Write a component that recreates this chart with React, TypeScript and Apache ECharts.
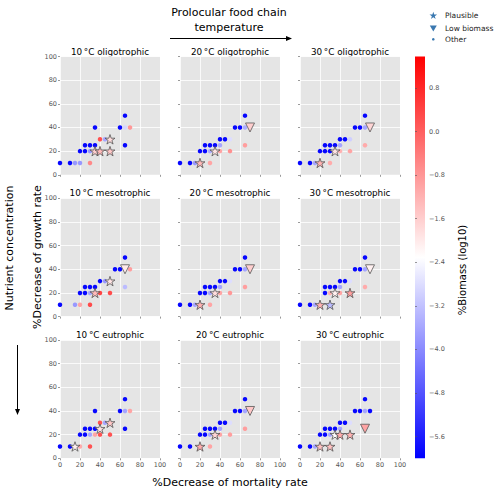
import React, { useEffect, useRef } from "react";
import * as echarts from "echarts";

// log10 biomass of a saturated-blue point
const B = -5.9;

const panelTitles = [
  "10\u2009°C oligotrophic", "20\u2009°C oligotrophic", "30\u2009°C oligotrophic",
  "10\u2009°C mesotrophic", "20\u2009°C mesotrophic", "30\u2009°C mesotrophic",
  "10\u2009°C eutrophic", "20\u2009°C eutrophic", "30\u2009°C eutrophic",
];

const axisTicks = [0, 20, 40, 60, 80, 100];
const colorbarTicks = [-5.6, -4.8, -4.0, -3.2, -2.4, -1.6, -0.8, 0.0, 0.8];
const biomassMin = -6.0;
const biomassMax = 1.38;

// [mortality decrease %, growth decrease %, log10 biomass, kind] kind: 0 other, 1 plausible, 2 low biomass
const oligo10 = [
  [0, 10, B, 0], [10, 10, B, 0], [15, 10, -3.8, 0], [20, 10, -3.8, 0], [30, 10, -0.6, 0],
  [20, 20, B, 0], [25, 20, B, 0], [30, 20, -3.8, 0],
  [25, 25, B, 0], [30, 25, B, 0], [35, 25, B, 0], [35, 40, B, 0],
  [40, 30, 0.2, 0], [45, 30, -3.6, 0],
  [60, 40, B, 0], [65, 40, -2.9, 0], [70, 40, -0.8, 0], [65, 50, B, 0], [65, 25, B, 0],
  [35, 20, -1.6, 1], [40, 20, -1.3, 1], [50, 20, -1.5, 1], [50, 30, -1.8, 1],
];
const oligo20 = [
  [0, 10, B, 0], [10, 10, B, 0], [15, 10, -3.8, 0], [30, 10, -1.0, 0],
  [20, 20, B, 0], [25, 20, B, 0], [30, 20, -3.5, 0], [40, 20, -1.0, 0], [50, 20, -0.7, 0],
  [25, 25, B, 0], [30, 25, B, 0], [35, 25, B, 0], [40, 25, -3.6, 0],
  [40, 30, B, 0], [45, 30, B, 0], [50, 30, -2.8, 0],
  [55, 40, B, 0], [60, 40, B, 0], [65, 40, -3.5, 0], [65, 50, B, 0], [65, 25, -0.9, 0],
  [20, 10, -1.3, 1], [35, 20, -1.9, 1], [70, 40, -1.6, 2],
];
const oligo30 = [
  [0, 10, B, 0], [10, 10, B, 0], [15, 10, -3.6, 0], [30, 10, -1.1, 0],
  [20, 20, B, 0], [25, 20, B, 0], [30, 20, B, 0], [40, 20, -1.2, 0], [50, 20, -1.0, 0],
  [25, 25, B, 0], [30, 25, B, 0], [35, 25, B, 0], [40, 25, -3.6, 0],
  [40, 30, B, 0], [45, 30, B, 0], [50, 30, -3.0, 0],
  [55, 40, B, 0], [60, 40, B, 0], [65, 40, -3.6, 0], [65, 50, B, 0], [65, 25, -1.1, 0],
  [20, 10, -1.2, 1], [35, 20, -1.9, 1], [70, 40, -1.7, 2],
];
const meso10 = [
  [0, 10, B, 0], [15, 10, -3.8, 0], [20, 10, -1.0, 0], [30, 10, 0.3, 0],
  [20, 20, B, 0], [25, 20, B, 0], [30, 20, -3.6, 0], [40, 20, 0.4, 0], [50, 20, 0.3, 0],
  [25, 25, B, 0], [30, 25, B, 0], [35, 25, B, 0],
  [40, 30, B, 0], [45, 30, -3.8, 0],
  [55, 40, B, 0], [60, 40, B, 0], [70, 40, -0.9, 0], [65, 50, B, 0], [65, 25, -3.3, 0],
  [35, 20, -1.3, 1], [50, 30, -1.9, 1], [65, 40, -2.0, 2],
];
const meso20 = [
  [0, 10, B, 0], [10, 10, B, 0], [15, 10, -3.6, 0], [30, 10, -1.0, 0],
  [20, 20, B, 0], [25, 20, B, 0], [30, 20, -3.6, 0], [40, 20, -1.0, 0], [50, 20, -0.8, 0],
  [25, 25, B, 0], [30, 25, B, 0], [35, 25, B, 0], [40, 25, -3.6, 0],
  [40, 30, B, 0], [45, 30, B, 0], [50, 30, -2.8, 0],
  [55, 40, B, 0], [60, 40, B, 0], [65, 40, -3.6, 0], [65, 50, B, 0], [65, 25, -0.9, 0],
  [20, 10, -1.2, 1], [35, 20, -1.8, 1], [70, 40, -1.6, 2],
];
const meso30 = [
  [0, 10, B, 0], [10, 10, B, 0], [15, 10, -3.6, 0],
  [25, 20, B, 0], [30, 20, -1.2, 0], [40, 20, -1.0, 0],
  [25, 25, B, 0], [30, 25, B, 0], [35, 25, B, 0], [40, 25, -3.6, 0],
  [40, 30, B, 0], [45, 30, B, 0], [50, 30, -2.8, 0],
  [55, 40, B, 0], [60, 40, B, 0], [65, 40, -3.6, 0], [65, 50, B, 0], [65, 25, -1.1, 0],
  [20, 10, -1.2, 1], [30, 10, -3.3, 1], [35, 20, -2.1, 1], [50, 20, -0.9, 1], [70, 40, -2.1, 2],
];
const eutro10 = [
  [0, 10, B, 0], [10, 10, B, 0], [20, 10, -1.1, 0], [30, 10, 0.2, 0],
  [20, 20, B, 0], [25, 20, B, 0], [30, 20, -3.6, 0], [35, 20, -1.0, 0], [40, 20, 0.2, 0], [50, 20, 0.2, 0],
  [25, 25, B, 0], [30, 25, B, 0], [35, 25, B, 0],
  [40, 30, 0.2, 0], [45, 30, -3.6, 0],
  [35, 40, B, 0], [60, 40, B, 0], [65, 40, -3.6, 0], [70, 40, -1.0, 0], [65, 50, B, 0], [65, 25, B, 0],
  [15, 10, -2.1, 1], [40, 25, -1.9, 1], [50, 30, -1.5, 1],
];
const eutro20 = [
  [0, 10, B, 0], [10, 10, B, 0], [30, 10, -1.0, 0],
  [20, 20, B, 0], [25, 20, B, 0], [30, 20, -3.6, 0], [40, 20, -1.0, 0], [50, 20, -0.9, 0],
  [25, 25, B, 0], [30, 25, B, 0], [35, 25, B, 0], [40, 25, -3.6, 0],
  [40, 30, B, 0], [45, 30, B, 0], [50, 30, -2.8, 0],
  [55, 40, B, 0], [60, 40, B, 0], [65, 40, -3.6, 0], [65, 50, B, 0], [65, 25, -0.9, 0],
  [20, 10, -1.1, 1], [35, 20, -1.7, 1], [70, 40, -1.5, 2],
];
const eutro30 = [
  [0, 10, B, 0], [10, 10, B, 0], [15, 10, -3.6, 0],
  [20, 20, B, 0], [25, 20, B, 0], [30, 20, -3.6, 0],
  [25, 25, B, 0], [30, 25, B, 0], [35, 25, B, 0], [40, 25, -3.6, 0],
  [40, 30, B, 0], [45, 30, B, 0], [50, 30, -2.8, 0],
  [55, 40, B, 0], [60, 40, B, 0], [65, 40, -3.6, 0], [70, 40, B, 0], [65, 50, B, 0],
  [20, 10, -1.4, 1], [30, 10, -1.4, 1], [35, 20, -2.3, 1], [40, 20, -1.1, 1], [50, 20, -1.2, 1],
  [65, 25, -1.0, 2],
];

const panels = [oligo10, oligo20, oligo30, meso10, meso20, meso30, eutro10, eutro20, eutro30];

const STAR =
  "path://M0,-1L0.2245,-0.309L0.951,-0.309L0.363,0.118L0.588,0.809L0,0.382L-0.588,0.809L-0.363,0.118L-0.951,-0.309L-0.2245,-0.309Z";

const FONT = "DejaVu Sans";
const colLeft = [60, 180, 300];
const rowTop = [56.5, 198.3, 340];
const PW = 100;
const PH = 118.3;

export default function App() {
  const ref = useRef<HTMLDivElement>(null);
  useEffect(() => {
    if (!ref.current) return;
    const chart = echarts.init(ref.current, undefined, { renderer: "svg" });

    const grids: any[] = [];
    const xAxes: any[] = [];
    const yAxes: any[] = [];
    const series: any[] = [];
    const graphics: any[] = [];

    panels.forEach((data, i) => {
      const row = Math.floor(i / 3);
      const col = i % 3;
      grids.push({
        left: colLeft[col], top: rowTop[row], width: PW, height: PH,
        show: true, backgroundColor: "#E5E5E5", borderWidth: 0,
      });
      const common = {
        gridIndex: i, type: "value", min: axisTicks[0], max: axisTicks[axisTicks.length - 1],
        interval: axisTicks[1] - axisTicks[0],
        axisLine: { show: false },
        axisTick: { show: true, length: 2, lineStyle: { color: "#555", width: 0.6 } },
        splitLine: { show: true, lineStyle: { color: "#ffffff", width: 0.8 } },
      };
      xAxes.push({
        ...common,
        axisLabel: { show: row === 2, fontSize: 6.5, color: "#555", margin: 3, fontFamily: FONT },
      });
      yAxes.push({
        ...common,
        axisLabel: { show: col === 0, fontSize: 6.5, color: "#555", margin: 3, fontFamily: FONT },
      });
      const others = data.filter((d) => d[3] === 0).map((d) => [d[0], d[1], d[2]]);
      const plaus = data.filter((d) => d[3] === 1).map((d) => [d[0], d[1], d[2]]);
      const low = data.filter((d) => d[3] === 2).map((d) => [d[0], d[1], d[2]]);
      series.push({
        type: "scatter", xAxisIndex: i, yAxisIndex: i, data: others,
        symbol: "circle", symbolSize: 4.5, silent: true, z: 2,
        itemStyle: { opacity: 1 },
      });
      series.push({
        type: "scatter", xAxisIndex: i, yAxisIndex: i, data: plaus,
        symbol: STAR, symbolSize: 10, symbolKeepAspect: true, silent: true, z: 3,
        itemStyle: { opacity: 1, borderColor: "#555", borderWidth: 0.8 },
      });
      series.push({
        type: "scatter", xAxisIndex: i, yAxisIndex: i, data: low,
        symbol: "triangle", symbolRotate: 180, symbolSize: 9, silent: true, z: 3,
        itemStyle: { opacity: 1, borderColor: "#555", borderWidth: 0.8 },
      });
      graphics.push({
        type: "text", x: colLeft[col] + PW / 2, y: rowTop[row] - 5,
        style: {
          text: panelTitles[i], align: "center", verticalAlign: "middle",
          fontSize: 8.8, fontFamily: FONT, fill: "#000",
        },
      });
    });

    // colorbar
    grids.push({
      left: 415, top: 56.5, width: 10, height: rowTop[2] + PH - 56.5,
      show: true, borderWidth: 0,
      backgroundColor: new echarts.graphic.LinearGradient(0, 0, 0, 1, [
        { offset: 0, color: "#ff0000" },
        { offset: 0.5, color: "#ffffff" },
        { offset: 1, color: "#0000ff" },
      ]),
    });
    xAxes.push({ gridIndex: 9, type: "value", show: false, min: 0, max: 1 });
    yAxes.push({
      gridIndex: 9, type: "value", position: "right", min: biomassMin, max: biomassMax,
      axisLine: { show: false },
      splitLine: { show: false },
      axisTick: { show: true, length: 2, customValues: colorbarTicks, lineStyle: { color: "#555", width: 0.6 } },
      axisLabel: {
        show: true, customValues: colorbarTicks, fontSize: 6.5, color: "#555", margin: 4, fontFamily: FONT,
        formatter: (v: number) => v.toFixed(1).replace("-", "\u2212"),
      },
    });

    // figure texts
    graphics.push(
      { type: "text", x: 229, y: 12, style: { text: "Prolocular food chain", align: "center", verticalAlign: "middle", fontSize: 11, fontFamily: FONT, fill: "#000" } },
      { type: "text", x: 229, y: 27, style: { text: "temperature", align: "center", verticalAlign: "middle", fontSize: 11, fontFamily: FONT, fill: "#000" } },
      { type: "line", shape: { x1: 170, y1: 38.5, x2: 287, y2: 38.5 }, style: { stroke: "#000", lineWidth: 1 } },
      { type: "polygon", shape: { points: [[286, 36], [292, 38.5], [286, 41]] }, style: { fill: "#000" } },
      { type: "text", x: 9, y: 248, rotation: Math.PI / 2, style: { text: "Nutrient concentration", align: "center", verticalAlign: "middle", fontSize: 11, fontFamily: FONT, fill: "#000" } },
      { type: "line", shape: { x1: 17.5, y1: 345, x2: 17.5, y2: 410 }, style: { stroke: "#000", lineWidth: 1 } },
      { type: "polygon", shape: { points: [[15, 409], [17.5, 415], [20, 409]] }, style: { fill: "#000" } },
      { type: "text", x: 37, y: 257, rotation: Math.PI / 2, style: { text: "%Decrease of growth rate", align: "center", verticalAlign: "middle", fontSize: 11, fontFamily: FONT, fill: "#000" } },
      { type: "text", x: 230, y: 482, style: { text: "%Decrease of mortality rate", align: "center", verticalAlign: "middle", fontSize: 11, fontFamily: FONT, fill: "#000" } },
      { type: "text", x: 462, y: 270, rotation: Math.PI / 2, style: { text: "%Biomass (log10)", align: "center", verticalAlign: "middle", fontSize: 10, fontFamily: FONT, fill: "#000" } },
      // legend
      { type: "polygon", x: 433.3, y: 15.7, scaleX: 4, scaleY: 4, shape: { points: [[0, -1], [0.2245, -0.309], [0.951, -0.309], [0.363, 0.118], [0.588, 0.809], [0, 0.382], [-0.588, 0.809], [-0.363, 0.118], [-0.951, -0.309], [-0.2245, -0.309]] }, style: { fill: "#3A78B0" } },
      { type: "polygon", shape: { points: [[429.8, 25.5], [436.8, 25.5], [433.3, 31.5]] }, style: { fill: "#3A78B0" } },
      { type: "circle", shape: { cx: 433.3, cy: 39.3, r: 1.3 }, style: { fill: "#3A78B0" } },
      { type: "text", x: 445, y: 15.7, style: { text: "Plausible", verticalAlign: "middle", fontSize: 7.5, fontFamily: FONT, fill: "#222" } },
      { type: "text", x: 445, y: 28, style: { text: "Low biomass", verticalAlign: "middle", fontSize: 7.5, fontFamily: FONT, fill: "#222" } },
      { type: "text", x: 445, y: 39.3, style: { text: "Other", verticalAlign: "middle", fontSize: 7.5, fontFamily: FONT, fill: "#222" } },
    );

    chart.setOption({
      animation: false,
      backgroundColor: "#ffffff",
      grid: grids,
      xAxis: xAxes,
      yAxis: yAxes,
      visualMap: {
        type: "continuous", show: false, min: biomassMin, max: biomassMax, dimension: 2,
        seriesIndex: series.map((_, k) => k),
        inRange: { color: ["#0000ff", "#ffffff", "#ff0000"] },
      },
      series,
      graphic: graphics,
    });
    return () => chart.dispose();
  }, []);
  return (
    <div
      ref={ref}
      style={{ position: "fixed", left: 0, top: 0, width: 500, height: 494 }}
    />
  );
}
